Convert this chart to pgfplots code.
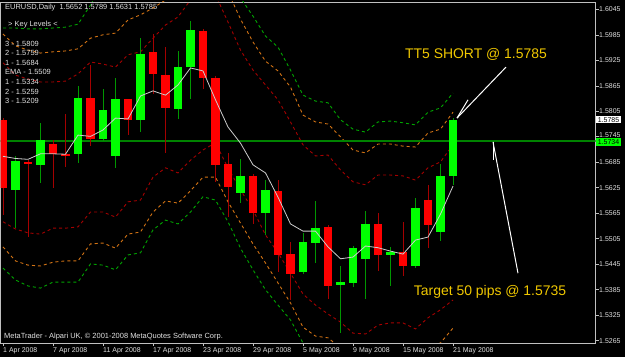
\documentclass[border=0pt]{standalone}
\usepackage{pgfplots}
\pgfplotsset{compat=1.18}
\usepackage{pgfplotstable}
\usepackage{fontspec}
\setmainfont{Liberation Sans}

\definecolor{bull}{RGB}{0,255,0}
\definecolor{bear}{RGB}{255,0,0}
\definecolor{bullwick}{RGB}{0,150,0}
\definecolor{bearwick}{RGB}{165,0,0}
\definecolor{bandgreen}{RGB}{0,165,0}
\definecolor{bandorange}{RGB}{210,115,20}
\definecolor{bandred}{RGB}{165,0,0}
\definecolor{emacol}{RGB}{205,205,205}
\definecolor{framecol}{RGB}{192,192,192}
\definecolor{labcol}{RGB}{225,225,225}
\definecolor{goldtxt}{RGB}{240,200,0}
\definecolor{levelgreen}{RGB}{0,130,0}

\pgfplotstableread{
i o h l c
1 1.5621 1.5700 1.5531 1.5688
3 1.5679 1.5777 1.5636 1.5738
6 1.5704 1.5865 1.5683 1.5836
8 1.5740 1.5857 1.5735 1.5808
9 1.5701 1.5883 1.5671 1.5833
11 1.5785 1.5977 1.5757 1.5941
14 1.5810 1.5947 1.5788 1.5910
15 1.5909 1.6018 1.5833 1.5996
19 1.5612 1.5693 1.5590 1.5653
21 1.5565 1.5643 1.5514 1.5620
24 1.5428 1.5519 1.5422 1.5497
25 1.5496 1.5594 1.5449 1.5531
27 1.5396 1.5441 1.5283 1.5403
28 1.5402 1.5489 1.5391 1.5483
29 1.5457 1.5570 1.5363 1.5540
31 1.5467 1.5486 1.5394 1.5475
33 1.5441 1.5602 1.5436 1.5577
35 1.5520 1.5680 1.5500 1.5653
36 1.5652 1.5789 1.5631 1.5785
}\bulltab

\pgfplotstableread{
i o h l c
0 1.5784 1.5790 1.5561 1.5624
2 1.5686 1.5690 1.5510 1.5681
4 1.5729 1.5738 1.5625 1.5704
5 1.5705 1.5799 1.5673 1.5701
7 1.5836 1.5914 1.5723 1.5741
10 1.5833 1.5835 1.5749 1.5785
12 1.5944 1.5987 1.5846 1.5892
13 1.5890 1.5956 1.5708 1.5814
16 1.5995 1.5998 1.5857 1.5883
17 1.5883 1.5888 1.5639 1.5679
18 1.5680 1.5706 1.5557 1.5628
20 1.5653 1.5658 1.5539 1.5565
22 1.5617 1.5643 1.5428 1.5466
23 1.5469 1.5497 1.5361 1.5421
26 1.5533 1.5537 1.5363 1.5395
30 1.5540 1.5566 1.5429 1.5466
32 1.5475 1.5545 1.5418 1.5442
34 1.5596 1.5632 1.5483 1.5537
}\beartab

\pgfplotstableread{
i ema ug uo ur lr lo lg
0 1.5699 1.6001 1.5987 1.5919 1.5545 1.5486 1.5436
1 1.5694 1.6001 1.5959 1.5890 1.5528 1.5453 1.5408
2 1.5692 1.5999 1.5949 1.5881 1.5519 1.5443 1.5394
3 1.5705 1.5999 1.5942 1.5874 1.5516 1.5441 1.5389
4 1.5705 1.6001 1.5945 1.5874 1.5530 1.5450 1.5403
5 1.5704 1.6003 1.5947 1.5876 1.5530 1.5453 1.5403
6 1.5749 1.6010 1.5952 1.5893 1.5533 1.5453 1.5403
7 1.5746 1.6055 1.5977 1.5921 1.5568 1.5493 1.5446
8 1.5761 1.6114 1.5985 1.5916 1.5568 1.5495 1.5443
9 1.5789 1.6114 1.5989 1.5909 1.5556 1.5483 1.5432
10 1.5787 1.6114 1.6020 1.5938 1.5592 1.5516 1.5467
11 1.5841 1.6114 1.6032 1.5945 1.5596 1.5521 1.5472
12 1.5853 1.6114 1.6048 1.5977 1.5650 1.5568 1.5526
13 1.5843 1.6114 1.6067 1.6008 1.5672 1.5594 1.5549
14 1.5867 1.6114 1.6114 1.6027 1.5660 1.5589 1.5540
15 1.5907 1.6114 1.6114 1.6067 1.5690 1.5618 1.5568
16 1.5900 1.6114 1.6114 1.6114 1.5714 1.5650 1.5604
17 1.5832 1.6114 1.6114 1.6079 1.5731 1.5650 1.5596
18 1.5768 1.6114 1.6086 1.6015 1.5672 1.5592 1.5545
19 1.5730 1.6072 1.6022 1.5949 1.5620 1.5542 1.5483
20 1.5679 1.6029 1.5968 1.5902 1.5573 1.5493 1.5432
21 1.5660 1.5982 1.5923 1.5867 1.5514 1.5448 1.5385
22 1.5603 1.5956 1.5900 1.5832 1.5472 1.5401 1.5349
23 1.5540 1.5902 1.5862 1.5780 1.5424 1.5354 1.5314
24 1.5523 1.5843 1.5796 1.5726 1.5375 1.5297 1.5260
25 1.5523 1.5829 1.5780 1.5700 1.5349 1.5276 1.5200
26 1.5486 1.5825 1.5775 1.5702 1.5328 1.5272 1.5200
27 1.5458 1.5785 1.5745 1.5667 1.5309 1.5248 1.5200
28 1.5462 1.5763 1.5714 1.5639 1.5283 1.5220 1.5200
29 1.5488 1.5756 1.5707 1.5632 1.5281 1.5220 1.5200
30 1.5484 1.5780 1.5728 1.5655 1.5302 1.5231 1.5200
31 1.5476 1.5782 1.5728 1.5655 1.5307 1.5239 1.5200
32 1.5469 1.5778 1.5723 1.5653 1.5307 1.5239 1.5200
33 1.5502 1.5773 1.5721 1.5643 1.5293 1.5231 1.5200
34 1.5509 1.5803 1.5754 1.5672 1.5319 1.5248 1.5200
35 1.5563 1.5813 1.5763 1.5686 1.5338 1.5260 1.5200
36 1.5629 1.5848 1.5803 1.5726 1.5361 1.5295 1.5200
}\linetab

\begin{document}
\begin{tikzpicture}
\fill[black] (0,0) rectangle (625bp,357bp);
\begin{axis}[
  at={(0.5bp,14bp)}, anchor=south west,
  scale only axis, width=595bp, height=341bp,
  xmin=-0.2, xmax=47.4, ymin=1.52598, ymax=1.60622,
  axis background/.style={fill=black},
  axis line style={framecol, line width=0.8bp},
  clip mode=individual,
  xtick={0,4,8,12,16,20,24,28,32,36},
  xticklabels={1 Apr 2008,7 Apr 2008,11 Apr 2008,17 Apr 2008,23 Apr 2008,29 Apr 2008,5 May 2008,9 May 2008,15 May 2008,21 May 2008},
  ytick={1.5265,1.5325,1.5385,1.5445,1.5505,1.5565,1.5625,1.5685,1.5745,1.5805,1.5865,1.5925,1.5985,1.6045},
  yticklabels={1.5265,1.5325,1.5385,1.5445,1.5505,1.5565,1.5625,1.5685,\raisebox{2.5bp}{1.5745},\raisebox{1bp}{1.5805},1.5865,1.5925,1.5985,1.6045},
  xtick pos=left, ytick pos=right, yticklabel pos=right,
  tick align=outside, major tick length=3bp,
  tick style={framecol, line width=0.6bp},
  xticklabel style={font=\fontsize{7}{8}\selectfont, text=labcol, anchor=north west, inner sep=0pt, yshift=-1.5bp},
  yticklabel style={font=\fontsize{7}{8}\selectfont, text=labcol, anchor=west, inner sep=0pt, xshift=0.5bp},
]
% bands
\addplot[bandgreen, line width=0.9bp, dash pattern=on 3bp off 3bp] table[x=i,y=ug] {\linetab};
\addplot[bandorange, line width=0.9bp, dash pattern=on 3bp off 3bp] table[x=i,y=uo] {\linetab};
\addplot[bandred, line width=0.9bp, dash pattern=on 3bp off 3bp] table[x=i,y=ur] {\linetab};
\addplot[bandred, line width=0.9bp, dash pattern=on 3bp off 3bp] table[x=i,y=lr] {\linetab};
\addplot[bandorange, line width=0.9bp, dash pattern=on 3bp off 3bp] table[x=i,y=lo] {\linetab};
\addplot[bandgreen, line width=0.9bp, dash pattern=on 3bp off 3bp] table[x=i,y=lg] {\linetab};
% level line
\addplot[levelgreen, line width=2bp] coordinates {(-1,1.5734) (48,1.5734)};
% wicks
\addplot[draw=none, mark=none, error bars/.cd, y dir=both, y explicit, error mark=none,
  error bar style={draw=bullwick, line width=1bp}]
  table[x=i, y expr={(\thisrow{h}+\thisrow{l})/2}, y error expr={(\thisrow{h}-\thisrow{l})/2}] {\bulltab};
\addplot[draw=none, mark=none, error bars/.cd, y dir=both, y explicit, error mark=none,
  error bar style={draw=bearwick, line width=1bp}]
  table[x=i, y expr={(\thisrow{h}+\thisrow{l})/2}, y error expr={(\thisrow{h}-\thisrow{l})/2}] {\beartab};
% bodies
\addplot[draw=none, mark=none, error bars/.cd, y dir=both, y explicit, error mark=none,
  error bar style={draw=bull, line width=8.5bp}]
  table[x=i, y expr={(\thisrow{o}+\thisrow{c})/2}, y error expr={abs(\thisrow{c}-\thisrow{o})/2}] {\bulltab};
\addplot[draw=none, mark=none, error bars/.cd, y dir=both, y explicit, error mark=none,
  error bar style={draw=bear, line width=8.5bp}]
  table[x=i, y expr={(\thisrow{o}+\thisrow{c})/2}, y error expr={abs(\thisrow{c}-\thisrow{o})/2}] {\beartab};
% EMA
\addplot[emacol, line width=0.8bp] table[x=i,y=ema] {\linetab};
% annotations
\draw[white, line width=1bp] (axis cs:36.32,1.5789) -- (axis cs:40.24,1.5909);
\draw[white, line width=1bp] (axis cs:36.32,1.5789) -- (axis cs:37.2,1.5832);
\draw[white, line width=1bp] (axis cs:39.2,1.5733) -- (axis cs:41.2,1.5424);
\draw[white, line width=1bp] (axis cs:39.2,1.5733) -- (axis cs:39.2,1.5690);
\node[text=goldtxt, font=\fontsize{14}{16}\selectfont, inner sep=0pt] at (axis cs:37.84,1.5938) {TT5 SHORT @ 1.5785};
\node[text=goldtxt, font=\fontsize{14}{16}\selectfont, inner sep=0pt] at (axis cs:38.96,1.5380) {Target 50 pips @ 1.5735};
% price boxes
\node[fill=white, text=black, font=\fontsize{7}{8}\selectfont, inner xsep=1.5bp, inner ysep=1.2bp, anchor=west] at (axis cs:47.45,1.5785) {1.5785};
\node[fill=bull, text=black, font=\fontsize{7}{8}\selectfont, inner xsep=1.5bp, inner ysep=1.2bp, anchor=west] at (axis cs:47.45,1.5733) {1.5734};
\end{axis}
% texts
\begin{scope}[every node/.style={anchor=west, inner sep=0pt, font=\fontsize{7.5}{9}\selectfont, text=labcol}]
\node at (5bp,{(357-7.5)*1bp}) {EURUSD,Daily\ \ 1.5652 1.5789 1.5631 1.5785};
\node at (8bp,{(357-25)*1bp}) {> Key Levels <};
\node at (5bp,{(357-43.5)*1bp}) {3 - 1.5809};
\node at (5bp,{(357-53)*1bp}) {2 - 1.5759};
\node at (5bp,{(357-62.5)*1bp}) {1 - 1.5684};
\node at (5bp,{(357-72)*1bp}) {EMA - 1.5509};
\node at (5bp,{(357-82)*1bp}) {1 - 1.5334};
\node at (5bp,{(357-91.5)*1bp}) {2 - 1.5259};
\node at (5bp,{(357-101)*1bp}) {3 - 1.5209};
\node at (4bp,{(357-336.5)*1bp}) {MetaTrader - Alpari UK, © 2001-2008 MetaQuotes Software Corp.};
\end{scope}
\pgfresetboundingbox
\useasboundingbox (0,0) rectangle (625bp,357bp);
\end{tikzpicture}
\end{document}
